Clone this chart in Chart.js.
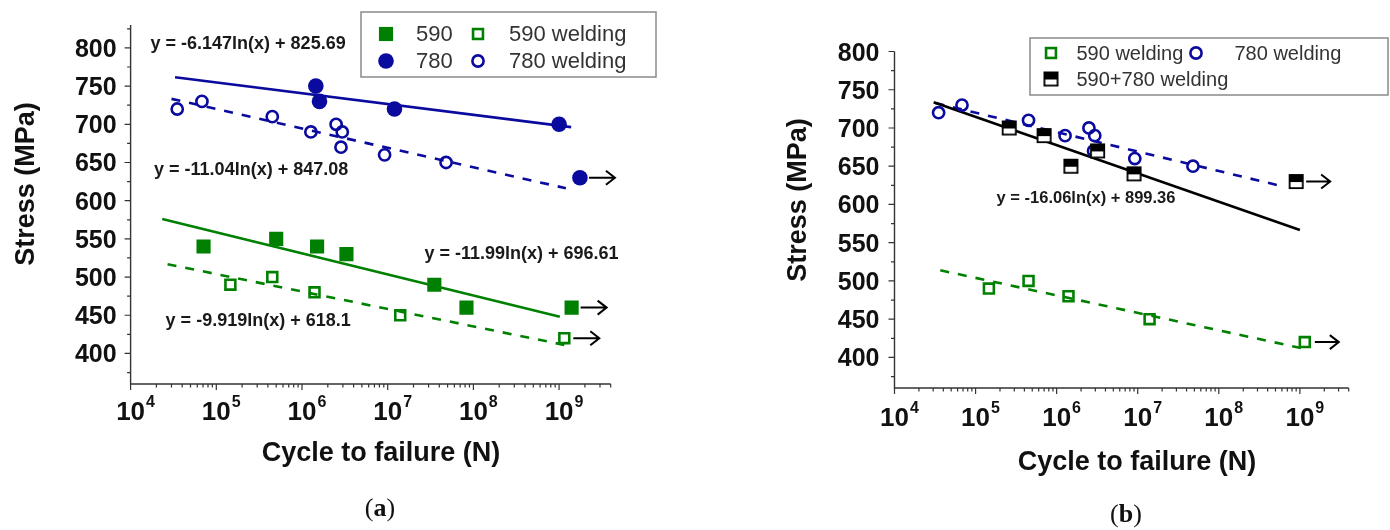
<!DOCTYPE html>
<html>
<head>
<meta charset="utf-8">
<script src="https://cdn.jsdelivr.net/npm/chart.js@4/dist/chart.umd.min.js"></script>
<style>
  html, body { margin: 0; padding: 0; background: #fff; }
  #wrap { position: relative; width: 1390px; height: 530px; }
  .panel { position: absolute; top: 0; width: 695px; height: 530px; }
</style>
</head>
<body>
<div id="wrap">
  <div class="panel" style="left:0"><canvas id="chartA" width="695" height="530"></canvas></div>
  <div class="panel" style="left:695px"><canvas id="chartB" width="695" height="530"></canvas></div>
</div>
<script>
// stress (MPa) vs cycles to failure
const cyc590 = [7.1e4, 5.0e5, 1.5e6, 3.3e6, 3.5e7, 8.3e7, 1.4e9];
const sig590 = [540, 550, 540, 530, 490, 460, 460];
const cyc590w = [1.46e5, 4.5e5, 1.4e6, 1.4e7, 1.15e9];
const sig590w = [490, 500, 480, 450, 420];
const cyc780 = [1.45e6, 1.6e6, 1.2e7, 1.0e9, 1.75e9];
const sig780 = [750, 730, 720, 700, 630];
const cyc780w = [3.5e4, 6.8e4, 4.5e5, 1.27e6, 2.5e6, 2.95e6, 2.85e6, 9.2e6, 4.8e7];
const sig780w = [720, 730, 710, 690, 700, 690, 670, 660, 650];
const cycMix = [2.6e5, 7.0e5, 1.5e6, 3.2e6, 9.0e6, 9.0e8];
const sigMix = [700, 690, 650, 670, 640, 630];

// run-outs (index of the unbroken specimen in each series)
const runout590 = 6;
const runout590w = 4;
const runout780 = 4;
const runoutMix = 5;

// fitted lines, end points taken from the printed equations
const fit780X = [3.3e4, 1.38e9];
const fit780Y = [761.7, 696.3];
const fit780wX = [3.0e4, 1.2e9];
const fit780wY = [733.3, 616.3];
const fit590X = [2.34e4, 1.02e9];
const fit590Y = [576.0, 447.9];
const fit590wX = [2.7e4, 1.15e9];
const fit590wY = [516.9, 411.2];
const fitMixX = [3.04e4, 1.0e9];
const fitMixY = [733.6, 566.5];
const fit780wBX = [3.2e4, 5.8e8];
const fit780wBY = [732.6, 624.3];
const fit590wBX = [3.67e4, 1.23e9];
const fit590wBY = [513.9, 410.5];

const eqA = ['y = -6.147ln(x) + 825.69', 'y = -11.04ln(x) + 847.08',
             'y = -11.99ln(x) + 696.61', 'y = -9.919ln(x) + 618.1'];
const eqB = ['y = -16.06ln(x) + 899.36'];

const yTickVals = [400, 450, 500, 550, 600, 650, 700, 750, 800];
const xTickExp = [4, 5, 6, 7, 8, 9];

const GREEN = '#008000';
const BLUE = '#0a0a9e';
const INK = '#111';
const SANS = '"Liberation Sans", Arial, sans-serif';

const pts = (xs, ys) => xs.map((x, i) => ({ x, y: ys[i] }));

// square with black upper half, used for the 590+780 joints
function halfSquare() {
  const c = document.createElement('canvas');
  c.width = 17; c.height = 17;
  const g = c.getContext('2d');
  g.fillStyle = '#fff';
  g.fillRect(1, 1, 15, 15);
  g.fillStyle = '#000';
  g.fillRect(1, 1, 15, 8);
  g.strokeStyle = '#000';
  g.lineWidth = 1.8;
  g.strokeRect(1.9, 1.9, 13.2, 13.2);
  return c;
}
const HALF = halfSquare();

const marks = {
  sqFill: { pointStyle: 'rect', pointRadius: 10, pointBackgroundColor: GREEN, pointBorderColor: GREEN, pointBorderWidth: 0 },
  sqOpen: { pointStyle: 'rect', pointRadius: 7, pointBackgroundColor: 'rgba(0,0,0,0)', pointBorderColor: GREEN, pointBorderWidth: 2.6 },
  ciFill: { pointStyle: 'circle', pointRadius: 7.8, pointBackgroundColor: BLUE, pointBorderColor: BLUE, pointBorderWidth: 0 },
  ciOpen: { pointStyle: 'circle', pointRadius: 5.6, pointBackgroundColor: 'rgba(0,0,0,0)', pointBorderColor: BLUE, pointBorderWidth: 2.6 },
  half: { pointStyle: HALF, pointRadius: 7, pointBorderWidth: 0 },
};

function scatterSet(label, xs, ys, mark, runout) {
  return Object.assign({ label, data: pts(xs, ys), showLine: false, runout }, marks[mark]);
}

function fitSet(xs, ys, color, dashed) {
  return {
    data: pts(xs, ys), showLine: true, pointRadius: 0, borderColor: color,
    borderWidth: 2.6, borderDash: dashed ? [9, 9] : [], tension: 0, fill: false,
  };
}

// small marker painter for the legend box
function drawMark(ctx, kind, x, y) {
  const m = marks[kind];
  ctx.save();
  if (kind === 'half') {
    ctx.drawImage(HALF, x - HALF.width / 2, y - HALF.height / 2);
  } else if (m.pointStyle === 'rect') {
    const s = m.pointRadius * Math.SQRT1_2;
    if (m.pointBorderWidth) {
      ctx.strokeStyle = m.pointBorderColor; ctx.lineWidth = m.pointBorderWidth;
      ctx.strokeRect(x - s, y - s, 2 * s, 2 * s);
    } else {
      ctx.fillStyle = m.pointBackgroundColor;
      ctx.fillRect(x - s, y - s, 2 * s, 2 * s);
    }
  } else {
    ctx.beginPath();
    ctx.arc(x, y, m.pointRadius, 0, Math.PI * 2);
    if (m.pointBorderWidth) {
      ctx.strokeStyle = m.pointBorderColor; ctx.lineWidth = m.pointBorderWidth; ctx.stroke();
    } else {
      ctx.fillStyle = m.pointBackgroundColor; ctx.fill();
    }
  }
  ctx.restore();
}

const frame = {
  id: 'frame',
  afterDraw(chart, args, o) {
    const { ctx, chartArea: a } = chart;
    const xs = chart.scales.x, ys = chart.scales.y;
    ctx.save();

    // run-out arrows
    ctx.strokeStyle = '#000';
    ctx.lineWidth = 2;
    chart.data.datasets.forEach((ds, i) => {
      if (ds.runout === undefined) return;
      const p = chart.getDatasetMeta(i).data[ds.runout];
      const x0 = p.x + o.arrowGap, x1 = x0 + o.arrowLen;
      ctx.beginPath();
      ctx.moveTo(x0, p.y); ctx.lineTo(x1, p.y);
      ctx.moveTo(x1 - 9, p.y - 7); ctx.lineTo(x1, p.y); ctx.lineTo(x1 - 9, p.y + 7);
      ctx.stroke();
    });

    // axis lines
    ctx.strokeStyle = '#333';
    ctx.lineWidth = 1.4;
    ctx.beginPath();
    ctx.moveTo(a.left, a.top); ctx.lineTo(a.left, a.bottom); ctx.lineTo(a.right, a.bottom);
    ctx.stroke();

    // y ticks, major every 50 and minor in between
    ctx.lineWidth = 1.2;
    ctx.beginPath();
    for (let v = Math.ceil(ys.min / 25) * 25; v <= ys.max; v += 25) {
      const py = ys.getPixelForValue(v);
      const len = v % 50 === 0 ? 6 : 3.5;
      ctx.moveTo(a.left - len, py); ctx.lineTo(a.left, py);
    }
    // x ticks on the log axis
    for (let e = 4; e <= 9; e++) {
      for (let m = 1; m <= 9; m++) {
        const v = m * Math.pow(10, e);
        if (v > xs.max * 1.001) break;
        const px = xs.getPixelForValue(v);
        const len = m === 1 ? 6 : 3.5;
        ctx.moveTo(px, a.bottom); ctx.lineTo(px, a.bottom + len);
      }
    }
    ctx.stroke();

    ctx.fillStyle = INK;
    ctx.font = `bold ${o.yTickSize}px ${SANS}`;
    ctx.textAlign = 'right';
    ctx.textBaseline = 'alphabetic';
    yTickVals.forEach((v) => {
      ctx.fillText(String(v), a.left - o.yLabelGap, ys.getPixelForValue(v) + o.yTickSize * 0.36);
    });

    xTickExp.forEach((e) => {
      const px = xs.getPixelForValue(Math.pow(10, e));
      ctx.font = `bold ${o.xTickSize}px ${SANS}`;
      ctx.textAlign = 'center';
      const w = ctx.measureText('10').width;
      const base = a.bottom + o.xLabelDrop;
      ctx.fillText('10', px, base);
      ctx.font = `bold ${o.expSize}px ${SANS}`;
      ctx.textAlign = 'left';
      ctx.fillText(String(e), px + w / 2 + 1, base - o.xTickSize * 0.5);
    });

    // axis titles
    ctx.font = `bold ${o.titleSize}px ${SANS}`;
    ctx.textAlign = 'center';
    ctx.textBaseline = 'middle';
    ctx.fillText('Cycle to failure (N)', o.xTitle[0], o.xTitle[1]);
    ctx.save();
    ctx.translate(o.yTitle[0], o.yTitle[1]);
    ctx.rotate(-Math.PI / 2);
    ctx.fillText('Stress (MPa)', 0, 0);
    ctx.restore();

    // fit equations
    ctx.font = `bold ${o.eqSize}px ${SANS}`;
    ctx.fillStyle = '#1a1a1a';
    o.eqs.forEach((t, i) => {
      const [vx, vy] = o.eqAt[i];
      ctx.fillText(t, xs.getPixelForValue(vx), ys.getPixelForValue(vy));
    });

    // legend box
    const [bl, bt, br, bb] = o.legendBox;
    ctx.strokeStyle = '#8a8a8a';
    ctx.lineWidth = 1.5;
    ctx.strokeRect(bl, bt, br - bl, bb - bt);
    ctx.font = `${o.legendSize}px ${SANS}`;
    ctx.fillStyle = '#333';
    ctx.textAlign = 'left';
    o.legendItems.forEach((it) => {
      drawMark(ctx, it.mark, it.mx, it.y);
      ctx.fillText(it.label, it.tx, it.y + 1);
    });

    // panel tag
    ctx.fillStyle = INK;
    ctx.textBaseline = 'middle';
    ctx.font = `26px "Liberation Serif", "Times New Roman", serif`;
    const wp = ctx.measureText('(').width;
    ctx.font = `bold 26px "Liberation Serif", "Times New Roman", serif`;
    const wl = ctx.measureText(o.tag).width;
    const x0 = o.tagAt[0] - (2 * wp + wl) / 2;
    ctx.textAlign = 'left';
    ctx.font = `26px "Liberation Serif", "Times New Roman", serif`;
    ctx.fillText('(', x0, o.tagAt[1]);
    ctx.fillText(')', x0 + wp + wl, o.tagAt[1]);
    ctx.font = `bold 26px "Liberation Serif", "Times New Roman", serif`;
    ctx.fillText(o.tag, x0 + wp, o.tagAt[1]);

    ctx.restore();
  },
};

function makePanel(id, datasets, area, yMax, frameOpts) {
  return new Chart(document.getElementById(id), {
    type: 'scatter',
    data: { datasets },
    options: {
      responsive: false,
      animation: false,
      events: [],
      layout: {
        autoPadding: false,
        padding: { left: area.left, top: area.top, right: 695 - area.right, bottom: 530 - area.bottom },
      },
      plugins: { legend: { display: false }, tooltip: { enabled: false }, frame: frameOpts },
      scales: {
        x: { type: 'logarithmic', min: 1e4, max: 4e9, display: false },
        y: { type: 'linear', min: 360, max: yMax, display: false },
      },
    },
    plugins: [frame],
  });
}

makePanel('chartA', [
  scatterSet('590', cyc590, sig590, 'sqFill', runout590),
  scatterSet('590 welding', cyc590w, sig590w, 'sqOpen', runout590w),
  scatterSet('780', cyc780, sig780, 'ciFill', runout780),
  scatterSet('780 welding', cyc780w, sig780w, 'ciOpen'),
  fitSet(fit780X, fit780Y, BLUE, false),
  fitSet(fit780wX, fit780wY, BLUE, true),
  fitSet(fit590X, fit590Y, GREEN, false),
  fitSet(fit590wX, fit590wY, GREEN, true),
], { left: 130.6, right: 610.7, top: 25, bottom: 384 }, 830, {
  yTickSize: 25, xTickSize: 26, expSize: 16, yLabelGap: 14, xLabelDrop: 36,
  titleSize: 27, xTitle: [381, 454], yTitle: [27, 184],
  eqSize: 18, eqs: eqA,
  eqAt: [[2.35e5, 805], [2.55e5, 640], [3.64e8, 530], [3.08e5, 442.5]],
  arrowGap: 9, arrowLen: 26,
  legendSize: 22, legendBox: [361, 12, 656, 77],
  legendItems: [
    { mark: 'sqFill', mx: 386, tx: 416, y: 34, label: '590' },
    { mark: 'sqOpen', mx: 478, tx: 509, y: 34, label: '590 welding' },
    { mark: 'ciFill', mx: 386, tx: 416, y: 61, label: '780' },
    { mark: 'ciOpen', mx: 478, tx: 509, y: 61, label: '780 welding' },
  ],
  tag: 'a', tagAt: [380, 509],
});

makePanel('chartB', [
  scatterSet('590+780 welding', cycMix, sigMix, 'half', runoutMix),
  scatterSet('590 welding', cyc590w, sig590w, 'sqOpen', runout590w),
  scatterSet('780 welding', cyc780w, sig780w, 'ciOpen'),
  fitSet(fitMixX, fitMixY, '#000', false),
  fitSet(fit780wBX, fit780wBY, BLUE, true),
  fitSet(fit590wBX, fit590wBY, GREEN, true),
], { left: 199.5, right: 653.7, top: 51.5, bottom: 388 }, 800, {
  yTickSize: 25, xTickSize: 26, expSize: 16, yLabelGap: 15, xLabelDrop: 38,
  titleSize: 27, xTitle: [442, 463], yTitle: [104, 200],
  eqSize: 16.5, eqs: eqB,
  eqAt: [[2.3e6, 608]],
  arrowGap: 10, arrowLen: 24,
  legendSize: 20, legendBox: [335, 38, 693, 95],
  legendItems: [
    { mark: 'sqOpen', mx: 356, tx: 381.5, y: 53, label: '590 welding' },
    { mark: 'ciOpen', mx: 501, tx: 539.5, y: 53, label: '780 welding' },
    { mark: 'half', mx: 356, tx: 381.5, y: 79, label: '590+780 welding' },
  ],
  tag: 'b', tagAt: [431, 515],
});
</script>
</body>
</html>
